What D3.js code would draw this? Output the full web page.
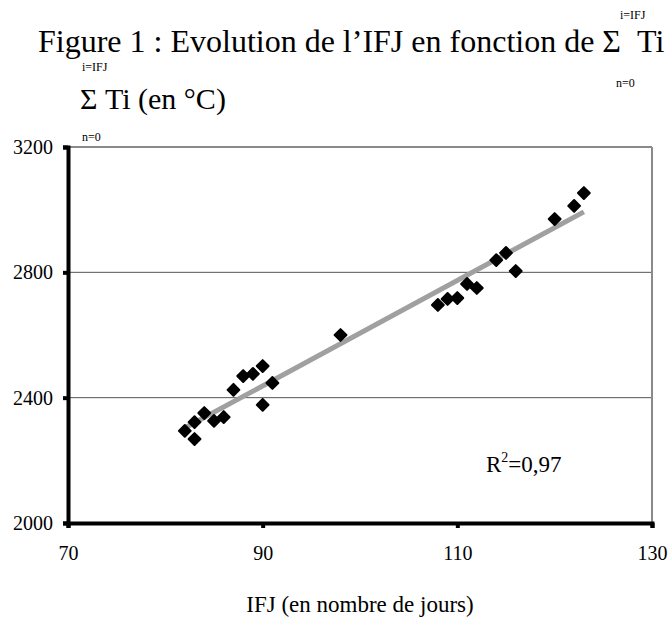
<!DOCTYPE html>
<html>
<head>
<meta charset="utf-8">
<script src="https://cdn.jsdelivr.net/npm/d3@7"></script>
<style>
body{margin:0;background:#fff;}
svg{display:block;}
svg text{font-family:"Liberation Serif","Times New Roman",serif;fill:#000;}
</style>
</head>
<body>
<svg id="chart" width="670" height="622"></svg>
<script>
// Data
const ifjDays = [82, 83, 83, 84, 85, 86, 87, 88, 89, 90, 90, 91, 98, 108, 109, 110, 111, 112, 114, 115, 116, 120, 122, 123];
const sumTi   = [2294, 2268, 2322, 2351, 2326, 2338, 2425, 2469, 2476, 2501, 2377, 2447, 2600, 2696, 2715, 2718, 2763, 2750, 2839, 2862, 2804, 2970, 3012, 3053];
const xTicks = [70, 90, 110, 130];
const yTicks = [2000, 2400, 2800, 3200];
const gridValues = [2400, 2800];
const trendX = [82, 123];
const trendY = [2303, 2993];
const r2Label = "0,97";

const FONT = "'Liberation Serif','Times New Roman',serif";
const svg = d3.select("#chart");
const x = d3.scaleLinear().domain([70, 130]).range([68, 652]);
const y = d3.scaleLinear().domain([2000, 3200]).range([523, 147]);

// Gridlines
svg.selectAll("line.grid").data(gridValues).enter().append("line")
  .attr("class", "grid")
  .attr("x1", x(70)).attr("x2", x(130))
  .attr("y1", d => y(d)).attr("y2", d => y(d))
  .attr("stroke", "#555").attr("stroke-width", 1);

// Top and right border
svg.append("line").attr("x1", x(70)).attr("x2", x(130)).attr("y1", y(3200)).attr("y2", y(3200))
  .attr("stroke", "#8a8a8a").attr("stroke-width", 2);
svg.append("line").attr("x1", x(130)).attr("x2", x(130)).attr("y1", y(3200)).attr("y2", y(2000))
  .attr("stroke", "#8a8a8a").attr("stroke-width", 2);

// Axes
const xAxis = svg.append("g").attr("transform", `translate(0,${y(2000)})`)
  .call(d3.axisBottom(x).tickValues(xTicks).tickSize(5).tickPadding(18).tickFormat(d3.format("d")));
const yAxis = svg.append("g").attr("transform", `translate(${x(70)},0)`)
  .call(d3.axisLeft(y).tickValues(yTicks).tickSize(5).tickPadding(10).tickFormat(d3.format("d")));
[xAxis, yAxis].forEach(g => {
  g.attr("font-family", FONT).attr("font-size", 20);
  g.select(".domain").attr("stroke", "#000").attr("stroke-width", 4);
  g.selectAll(".tick line").attr("stroke", "#000").attr("stroke-width", 4);
  g.selectAll(".tick text").attr("fill", "#000").attr("font-family", FONT).attr("font-size", 20);
});

// Trend line
svg.append("line")
  .attr("x1", x(trendX[0])).attr("y1", y(trendY[0]))
  .attr("x2", x(trendX[1])).attr("y2", y(trendY[1]))
  .attr("stroke", "#a0a0a0").attr("stroke-width", 5);

// Points
const sym = d3.symbol().type(d3.symbolSquare).size(70);
svg.selectAll("path.pt").data(ifjDays.map((d,i)=>[d, sumTi[i]])).enter().append("path")
  .attr("class", "pt")
  .attr("d", sym)
  .attr("transform", d => `translate(${x(d[0])},${y(d[1])}) rotate(45)`)
  .attr("fill", "#000").attr("stroke", "#000").attr("stroke-width", 2).attr("stroke-linejoin", "round");

function txt(xp, yp, size, s, anchor) {
  return svg.append("text").attr("x", xp).attr("y", yp)
    .attr("font-family", FONT).attr("font-size", size)
    .attr("text-anchor", anchor || "start").text(s);
}

// Title
txt(38, 52, 32, "Figure 1 : Evolution de l\u2019IFJ en fonction de \u03A3\u00A0\u00A0Ti");
txt(620, 19, 12, "i=IFJ");
txt(616, 87, 12, "n=0");

// Y axis title
txt(82, 71, 12, "i=IFJ");
txt(80, 109, 30, "\u03A3 Ti (en \u00B0C)");
txt(82, 141, 12, "n=0");

// X axis title
txt(360, 612, 23, "IFJ (en nombre de jours)", "middle");

// R² label
const r2 = svg.append("text").attr("x", 486).attr("y", 472).attr("font-family", FONT).attr("font-size", 23);
r2.append("tspan").text("R");
r2.append("tspan").attr("dy", -10).attr("font-size", 14).text("2");
r2.append("tspan").attr("dy", 10).text("=" + r2Label);
</script>
</body>
</html>
